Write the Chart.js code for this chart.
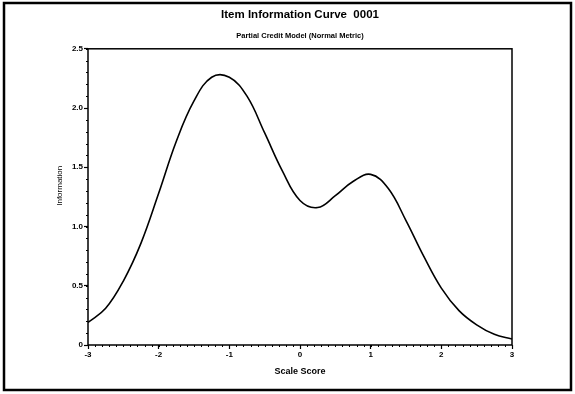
<!DOCTYPE html>
<html>
<head>
<meta charset="utf-8">
<script src="https://cdn.jsdelivr.net/npm/chart.js@4/dist/chart.umd.min.js"></script>
<style>
  body { margin: 0; background: #fff; }
</style>
</head>
<body>
<canvas id="iic" width="575" height="394"></canvas>
<script>
// Datos de la curva
const scaleScore = [-3, -2.75, -2.5, -2.25, -2, -1.75, -1.5, -1.25, -1, -0.75, -0.5, -0.25, 0, 0.25, 0.5, 0.75, 1, 1.25, 1.5, 1.75, 2, 2.25, 2.5, 2.75, 3];
const information = [0.19, 0.31, 0.54, 0.86, 1.28, 1.72, 2.06, 2.26, 2.26, 2.10, 1.79, 1.47, 1.22, 1.16, 1.26, 1.38, 1.44, 1.32, 1.05, 0.75, 0.48, 0.29, 0.17, 0.09, 0.05];
const xTicks = [-3, -2, -1, 0, 1, 2, 3];
const yTicks = [0, 0.5, 1.0, 1.5, 2.0, 2.5];

const FONT = "'Liberation Sans', Arial, sans-serif";

// marco del gráfico, marco de la página y marcas menores
const framePlugin = {
    id: 'frame',
    afterDraw(chart) {
        const ctx = chart.ctx;
        const a = chart.chartArea;
        const xs = chart.scales.x, ys = chart.scales.y;
        ctx.save();
        ctx.strokeStyle = '#000';
        ctx.lineWidth = 1.5;
        ctx.strokeRect(a.left, a.top, a.right - a.left, a.bottom - a.top);
        // marcas menores cada 0.1
        ctx.lineWidth = 1;
        ctx.beginPath();
        for (let i = -30; i <= 30; i++) {
            const px = Math.round(xs.getPixelForValue(i / 10)) + 0.5;
            ctx.moveTo(px, a.bottom);
            ctx.lineTo(px, a.bottom + 2);
        }
        for (let i = 0; i <= 25; i++) {
            const py = Math.round(ys.getPixelForValue(i / 10)) + 0.5;
            ctx.moveTo(a.left, py);
            ctx.lineTo(a.left - 2, py);
        }
        ctx.stroke();
        // marco de la página
        ctx.lineWidth = 2.5;
        ctx.strokeRect(4, 3, 567, 387);
        ctx.restore();
    }
};

new Chart(document.getElementById('iic').getContext('2d'), {
    type: 'line',
    data: {
        datasets: [{
            data: scaleScore.map((x, i) => ({ x: x, y: information[i] })),
            borderColor: '#000',
            borderWidth: 1.6,
            pointRadius: 0,
            fill: false,
            tension: 0.4
        }]
    },
    options: {
        responsive: false,
        animation: false,
        layout: { padding: { left: 55, right: 63, top: 4, bottom: 17 } },
        plugins: {
            legend: { display: false },
            tooltip: { enabled: false },
            title: {
                display: true,
                fullSize: false,
                text: 'Item Information Curve  0001',
                color: '#000',
                font: { family: FONT, size: 11.5, weight: 'bold' },
                padding: { top: 4, bottom: 6 }
            },
            subtitle: {
                display: true,
                fullSize: false,
                text: 'Partial Credit Model (Normal Metric)',
                color: '#000',
                font: { family: FONT, size: 7.5, weight: 'bold' },
                padding: { top: 3.5, bottom: 8.5 }
            }
        },
        scales: {
            x: {
                type: 'linear',
                min: -3,
                max: 3,
                afterBuildTicks: s => { s.ticks = xTicks.map(v => ({ value: v })); },
                afterFit: s => { s.height = 32; },
                border: { display: false },
                grid: { drawOnChartArea: false, tickLength: 4, tickColor: '#000', tickWidth: 1.2 },
                ticks: {
                    color: '#000',
                    padding: 1,
                    maxRotation: 0,
                    font: { family: FONT, size: 8, weight: 'bold' }
                },
                title: {
                    display: true,
                    text: 'Scale Score',
                    color: '#000',
                    padding: 0,
                    font: { family: FONT, size: 9, weight: 'bold' }
                }
            },
            y: {
                min: 0,
                max: 2.5,
                afterBuildTicks: s => { s.ticks = yTicks.map(v => ({ value: v })); },
                afterFit: s => { s.width = 33; },
                border: { display: false },
                grid: { drawOnChartArea: false, tickLength: 4, tickColor: '#000', tickWidth: 1.2 },
                ticks: {
                    color: '#000',
                    padding: 1,
                    font: { family: FONT, size: 8, weight: 'bold' },
                    callback: v => v === 0 ? '0' : v.toFixed(1)
                },
                title: {
                    display: true,
                    text: '          Information',
                    color: '#000',
                    padding: 0,
                    font: { family: FONT, size: 8 }
                }
            }
        }
    },
    plugins: [framePlugin]
});
</script>
</body>
</html>
